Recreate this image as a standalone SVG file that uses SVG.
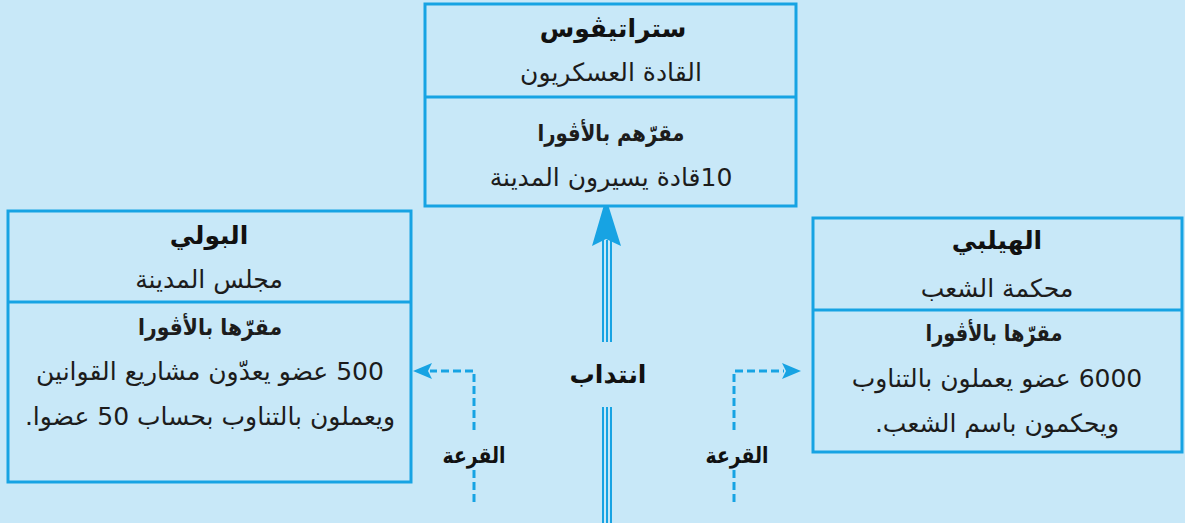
<svg xmlns="http://www.w3.org/2000/svg" width="1185" height="523" viewBox="0 0 1185 523">
<style>
.box{fill:#c8e8f8;stroke:#17a3e3;stroke-width:3}
.div{stroke:#17a3e3;stroke-width:3}
text{font-family:"DejaVu Sans","Noto Sans",sans-serif;fill:#1c1c1c;text-anchor:middle;direction:rtl;unicode-bidi:embed}
.t{font-size:25px;font-weight:bold;fill:#111}
.h{font-size:23px;font-weight:bold}
.b{font-size:25px}
.lbl{font-size:22px;font-weight:bold;fill:#111}
.big{font-size:25px}
.tri{stroke:#17a3e3;stroke-width:2;fill:none}
.dash{stroke:#17a3e3;stroke-width:3;fill:none;stroke-dasharray:8 4}
.ah{fill:#17a3e3}
</style>
<rect width="1185" height="523" fill="#c8e8f8"/>
<g id="connectors">
<path class="tri" d="M603,240V342M607,240V342M611,240V342M603,407V523M607,407V523M611,407V523"/>
<path class="ah" d="M606,198L621,246L606,239L592,246Z"/>
<path class="dash" d="M474,430V371H430M474,470V503"/>
<path class="ah" d="M413,371L432,363L428,371L432,379Z"/>
<path class="dash" d="M734,430V371H784M734,470V503"/>
<path class="ah" d="M801,371L782,363L786,371L782,379Z"/>
<text class="lbl big" x="608" y="383" textLength="77" lengthAdjust="spacingAndGlyphs">انتداب</text>
<text class="lbl" x="474" y="463" textLength="63" lengthAdjust="spacingAndGlyphs">القرعة</text>
<text class="lbl" x="737" y="463" textLength="63" lengthAdjust="spacingAndGlyphs">القرعة</text>
</g>
<g id="node-strategos">
<rect class="box" x="425" y="4" width="371" height="202"/>
<line class="div" x1="425" y1="97" x2="796" y2="97"/>
<text class="t" x="613" y="37">ستراتيڤوس</text>
<text class="b" x="611" y="81">القادة العسكريون</text>
<text class="h" x="611" y="141" textLength="147" lengthAdjust="spacingAndGlyphs">مقرّهم بالأڤورا</text>
<text class="b" x="611" y="186">10قادة يسيرون المدينة</text>
</g>
<g id="node-boule">
<rect class="box" x="8" y="211" width="403" height="271"/>
<line class="div" x1="8" y1="302" x2="411" y2="302"/>
<text class="t" x="209" y="244">البولي</text>
<text class="b" x="209" y="288">مجلس المدينة</text>
<text class="h" x="210" y="335" textLength="144" lengthAdjust="spacingAndGlyphs">مقرّها بالأڤورا</text>
<text class="b" x="210" y="380">500 عضو يعدّون مشاريع القوانين</text>
<text class="b" x="210" y="425">ويعملون بالتناوب بحساب 50 عضوا.</text>
</g>
<g id="node-heliaia">
<rect class="box" x="813" y="218" width="369" height="234"/>
<line class="div" x1="813" y1="310" x2="1182" y2="310"/>
<text class="t" x="997" y="249">الهيلبي</text>
<text class="b" x="997" y="297">محكمة الشعب</text>
<text class="h" x="994" y="341" textLength="137" lengthAdjust="spacingAndGlyphs">مقرّها بالأڤورا</text>
<text class="b" x="997" y="387">6000 عضو يعملون بالتناوب</text>
<text class="b" x="997" y="432">ويحكمون باسم الشعب.</text>
</g>
</svg>
